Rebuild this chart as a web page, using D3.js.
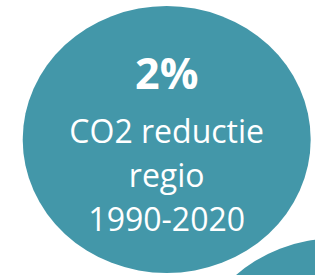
<!DOCTYPE html>
<html>
<head>
<meta charset="utf-8">
<script src="https://cdn.jsdelivr.net/npm/d3@7"></script>
<style>
  html, body { margin: 0; padding: 0; background: #ffffff; }
  svg { display: block; }
</style>
</head>
<body>
<div id="chart"></div>
<script>
// Data
const bubbleIds = ["co2", "next"];
const bubbleValues = ["2%", ""];
const bubbleLabels = [["CO2 reductie", "regio", "1990-2020"], []];
const bubbleColor = "#4397a9";

const W = 315, H = 275;
const svg = d3.select("#chart").append("svg")
  .attr("width", W).attr("height", H);

// Layout scales (bubble index -> centre)
const cx = d3.scaleLinear().domain([0, 1]).range([166.7, 335]);
const cy = d3.scaleLinear().domain([0, 1]).range([139.5, 372]);
const rx = 144, ry = 133.5;

const data = bubbleIds.map((id, i) => ({ id, i, value: bubbleValues[i], lines: bubbleLabels[i] }));

const g = svg.selectAll("g.bubble").data(data).join("g")
  .attr("class", "bubble")
  .attr("transform", d => `translate(${cx(d.i)},${cy(d.i)})`);

g.append("ellipse")
  .attr("rx", rx).attr("ry", ry)
  .attr("fill", bubbleColor);

const font = "'Open Sans', 'Noto Sans', sans-serif";

g.filter(d => d.value).append("text")
  .attr("text-anchor", "middle")
  .attr("y", 89 - 139.5)
  .attr("fill", "#ffffff")
  .attr("font-family", font)
  .attr("font-weight", 700)
  .attr("font-size", 43)
  .text(d => d.value);

const lineY = d3.scaleLinear().domain([0, 1]).range([143 - 139.5, 187 - 139.5]);
g.each(function(d) {
  d3.select(this).selectAll("text.lbl").data(d.lines).join("text")
    .attr("class", "lbl")
    .attr("text-anchor", "middle")
    .attr("y", (t, j) => lineY(j))
    .attr("fill", "#ffffff")
    .attr("font-family", font)
    .attr("font-size", 32)
    .text(t => t);
});
</script>
</body>
</html>
